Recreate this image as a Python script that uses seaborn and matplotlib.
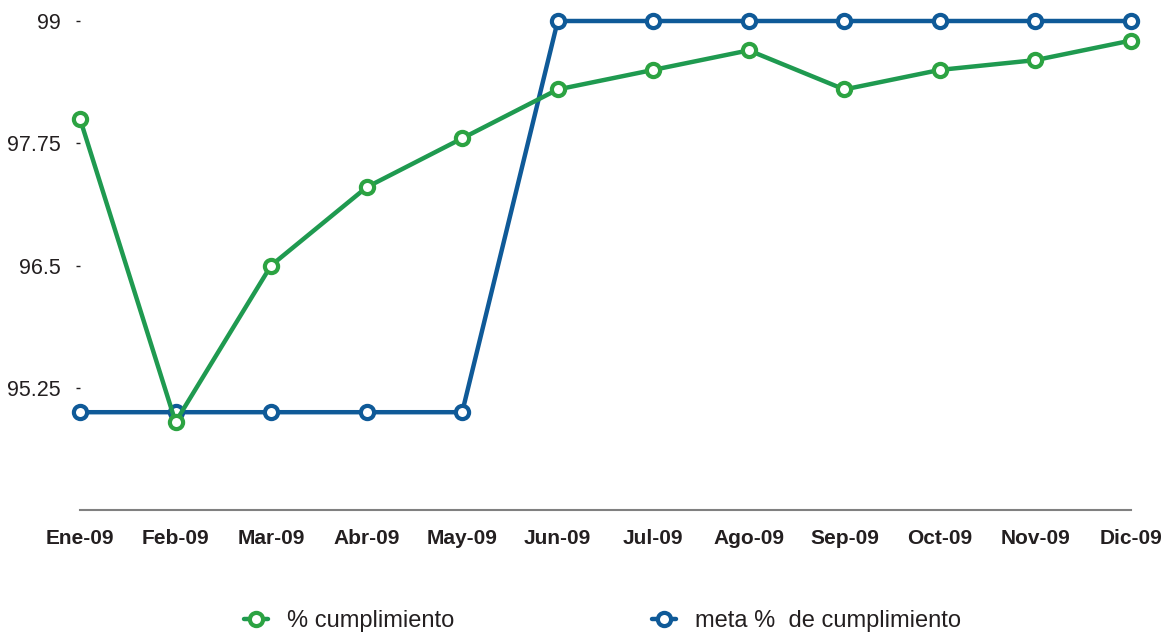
import matplotlib
matplotlib.use("Agg")
import matplotlib.pyplot as plt
import seaborn as sns
import pandas as pd
from matplotlib.lines import Line2D

meses = ["Ene-09", "Feb-09", "Mar-09", "Abr-09", "May-09", "Jun-09",
         "Jul-09", "Ago-09", "Sep-09", "Oct-09", "Nov-09", "Dic-09"]
cumplimiento = [98.0, 94.9, 96.5, 97.3, 97.8, 98.3, 98.5, 98.7, 98.3, 98.5, 98.6, 98.8]
meta = [95.0, 95.0, 95.0, 95.0, 95.0, 99.0, 99.0, 99.0, 99.0, 99.0, 99.0, 99.0]
y_ticks = [95.25, 96.5, 97.75, 99]
y_tick_labels = ["95.25", "96.5", "97.75", "99"]

serie_cumpl = "% cumplimiento"
serie_meta = "meta %  de cumplimiento"

verde = "#1f9a50"
verde_marca = "#2ca342"
azul = "#0f5a98"

sns.set_theme(style="white")
plt.rcParams["font.family"] = ["Liberation Sans", "DejaVu Sans"]

df = pd.DataFrame({
    "mes": list(range(len(meses))) * 2,
    "valor": meta + cumplimiento,
    "serie": [serie_meta] * len(meses) + [serie_cumpl] * len(meses),
})

fig = plt.figure(figsize=(11.65, 6.34), dpi=100)
ax = fig.add_axes([80 / 1165, (634 - 510) / 634, 1051 / 1165, 489 / 634])

for nombre, color_linea, color_marca in [(serie_meta, azul, azul),
                                         (serie_cumpl, verde, verde_marca)]:
    sub = df[df["serie"] == nombre]
    sns.lineplot(data=sub, x="mes", y="valor", ax=ax, color=color_linea,
                 linewidth=3.2, marker="o", markersize=9.5,
                 markerfacecolor="white", markeredgecolor=color_marca,
                 markeredgewidth=3.0, legend=False, clip_on=False, zorder=3)

ax.set_xlim(0, len(meses) - 1)
ax.set_ylim(94, 99)
ax.set_xticks(range(len(meses)))
ax.set_xticklabels(meses, fontsize=15, fontweight="bold", color="#231f20")
ax.set_yticks(y_ticks)
ax.set_yticklabels(y_tick_labels, fontsize=15.5, color="#231f20")
ax.set_xlabel("")
ax.set_ylabel("")

for lado in ["top", "right", "left"]:
    ax.spines[lado].set_visible(False)
ax.spines["bottom"].set_color("#808080")
ax.spines["bottom"].set_linewidth(1.5)

ax.tick_params(axis="y", length=3, width=1, color="#231f20", pad=11, left=True)
ax.tick_params(axis="x", length=0, pad=14)

manejadores = [
    Line2D([0], [0], color=verde, linewidth=3.2, marker="o", markersize=9.5,
           markerfacecolor="white", markeredgecolor=verde_marca, markeredgewidth=3.0),
    Line2D([0], [0], color=azul, linewidth=3.2, marker="o", markersize=9.5,
           markerfacecolor="white", markeredgecolor=azul, markeredgewidth=3.0),
]
fig.legend(manejadores, [serie_cumpl, serie_meta], loc="center",
           bbox_to_anchor=(0.517, 1 - 621 / 634), ncol=2, frameon=False,
           fontsize=17, handlelength=1.0, columnspacing=8.4, handletextpad=0.8,
           labelcolor="#231f20")

fig.savefig("out.png", dpi=100)
